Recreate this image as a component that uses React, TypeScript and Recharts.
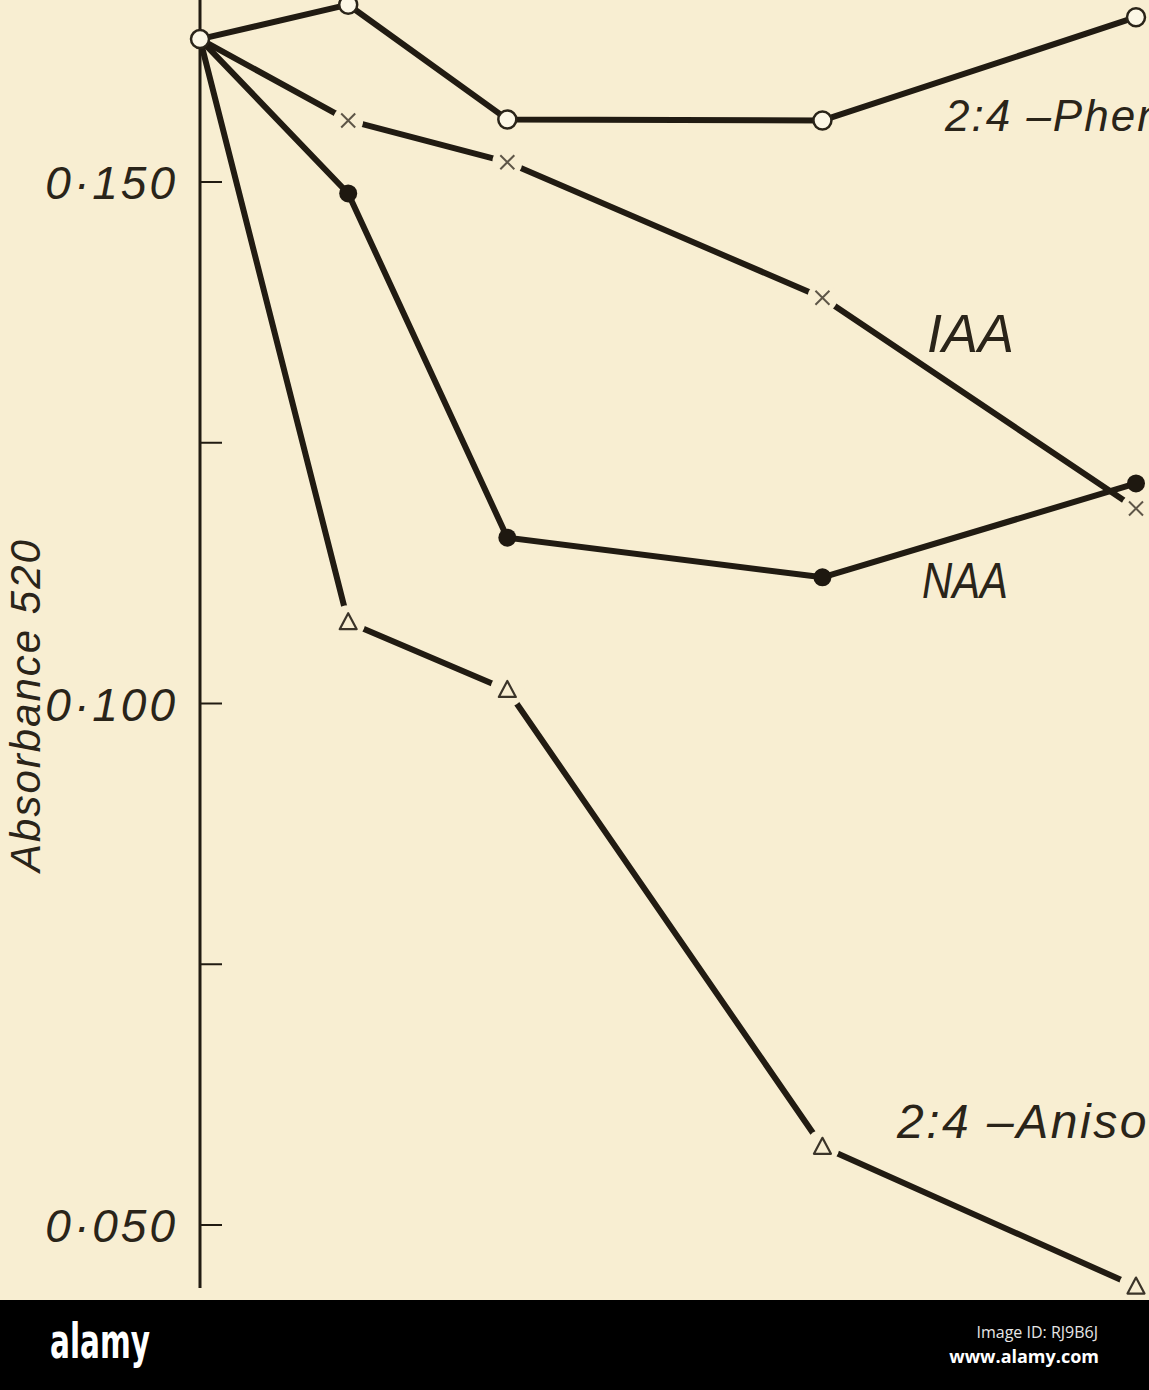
import { LineChart, Line, XAxis, YAxis } from "recharts";

const times = [0, 0.95, 1.97, 3.99, 6];

// absorbance at 520 nm for each treatment
const phen = [0.1637, 0.167, 0.156, 0.1559, 0.1658];
const iaa = [0.1637, 0.1559, 0.1519, 0.1389, 0.1187];
const naa = [0.1637, 0.1489, 0.1159, 0.1121, 0.1211];
const aniso = [0.1637, 0.1078, 0.1013, 0.0575, 0.0441];

const yTicks = [0.05, 0.075, 0.1, 0.125, 0.15];
const yTickLabels = ["0·050", "", "0·100", "", "0·150"];

const seriesNames = ["2:4 –Phen", "IAA", "NAA", "2:4 –Aniso"];

const BG = "#f8eed2";
const INK = "#211b12";
const FONT = "'Liberation Sans', Arial, sans-serif";

const data = times.map((t, i) => ({ t, phen: phen[i], iaa: iaa[i], naa: naa[i], aniso: aniso[i] }));

const OpenDot = (p: any) => (
  <circle key={`ph-${p.index}`} cx={p.cx} cy={p.cy} r={9} fill="#fcf7e6" stroke="#2a2419" strokeWidth={2.5} />
);

const CrossDot = (p: any) => {
  if (p.index === 0) return <g key={`x-${p.index}`} />;
  const { cx, cy } = p;
  return (
    <g key={`x-${p.index}`}>
      <circle cx={cx} cy={cy} r={15} fill={BG} />
      <path
        d={`M${cx - 7},${cy - 7}L${cx + 7},${cy + 7}M${cx + 7},${cy - 7}L${cx - 7},${cy + 7}`}
        stroke="#5e5648"
        strokeWidth={2}
      />
    </g>
  );
};

const FilledDot = (p: any) => {
  if (p.index === 0) return <g key={`n-${p.index}`} />;
  return <circle key={`n-${p.index}`} cx={p.cx} cy={p.cy} r={9} fill="#1e1810" />;
};

const TriangleDot = (p: any) => {
  if (p.index === 0) return <g key={`a-${p.index}`} />;
  const { cx, cy } = p;
  return (
    <g key={`a-${p.index}`}>
      <circle cx={cx} cy={cy} r={17} fill={BG} />
      <path
        d={`M${cx},${cy - 9}L${cx + 8.5},${cy + 7}L${cx - 8.5},${cy + 7}Z`}
        fill="none"
        stroke="#3b3429"
        strokeWidth={2.2}
        strokeLinejoin="round"
      />
    </g>
  );
};

const YTick = (props: any) => {
  const { x, y, payload } = props;
  const label = yTickLabels[yTicks.indexOf(payload.value)];
  return (
    <g>
      <line x1={x} x2={x + 22} y1={y} y2={y} stroke={INK} strokeWidth={2} />
      {label && (
        <text
          x={x - 22}
          y={y}
          dy={17}
          textAnchor="end"
          fontFamily={FONT}
          fontStyle="italic"
          fontSize={46}
          letterSpacing={3}
          fill="#2a2419"
        >
          {label}
        </text>
      )}
    </g>
  );
};

const lineStyle = { stroke: INK, strokeWidth: 6, strokeLinecap: "round" as const, strokeLinejoin: "round" as const };

export default function App() {
  return (
    <div style={{ position: "absolute", left: 0, top: 0, width: 1149, height: 1390, background: BG, overflow: "hidden" }}>
      <LineChart width={1149} height={1300} data={data} margin={{ top: 0, right: 13, bottom: 12, left: 0 }}>
        <XAxis dataKey="t" type="number" domain={[0, 6]} hide />
        <YAxis
          type="number"
          domain={[0.04396, 0.16745]}
          ticks={yTicks}
          width={200}
          tickSize={0}
          tickMargin={0}
          tickLine={false}
          axisLine={{ stroke: INK, strokeWidth: 3 }}
          tick={<YTick />}
        />
        {/* lines first, markers on top so the gaps around markers cut every line */}
        <Line type="linear" dataKey="phen" {...lineStyle} dot={false} activeDot={false} isAnimationActive={false} />
        <Line type="linear" dataKey="iaa" {...lineStyle} dot={false} activeDot={false} isAnimationActive={false} />
        <Line type="linear" dataKey="naa" {...lineStyle} dot={false} activeDot={false} isAnimationActive={false} />
        <Line type="linear" dataKey="aniso" {...lineStyle} dot={false} activeDot={false} isAnimationActive={false} />
        <Line type="linear" dataKey="aniso" stroke="none" dot={TriangleDot} activeDot={false} isAnimationActive={false} />
        <Line type="linear" dataKey="naa" stroke="none" dot={FilledDot} activeDot={false} isAnimationActive={false} />
        <Line type="linear" dataKey="iaa" stroke="none" dot={CrossDot} activeDot={false} isAnimationActive={false} />
        <Line type="linear" dataKey="phen" stroke="none" dot={OpenDot} activeDot={false} isAnimationActive={false} />
      </LineChart>
      <svg width={1149} height={1390} style={{ position: "absolute", left: 0, top: 0, pointerEvents: "none" }}>
        <g fontFamily={FONT} fontStyle="italic" fill="#2a2419">
          <text x={945} y={131} fontSize={44} letterSpacing={2}>{seriesNames[0]}</text>
          <text x={927} y={352} fontSize={54}>{seriesNames[1]}</text>
          <text x={922} y={598} fontSize={50} textLength={86} lengthAdjust="spacingAndGlyphs">{seriesNames[2]}</text>
          <text x={897} y={1138} fontSize={48} letterSpacing={2.5}>{seriesNames[3]}</text>
          <text
            transform="translate(40,705) rotate(-90)"
            textAnchor="middle"
            fontSize={42}
            letterSpacing={2}
          >
            Absorbance 520
          </text>
        </g>
        <rect x={0} y={1300} width={1149} height={90} fill="#000" />
        <text
          x={50}
          y={1358}
          fontFamily="'Liberation Sans Narrow', 'DejaVu Sans Condensed', sans-serif"
          fontWeight="bold"
          fontSize={48}
          textLength={100}
          lengthAdjust="spacingAndGlyphs"
          fill="#fff"
        >
          alamy
        </text>
        <text x={1098} y={1338} textAnchor="end" fontFamily="'Open Sans', sans-serif" fontSize={16} fill="#e6e6e6">
          Image ID: RJ9B6J
        </text>
        <text x={1099} y={1363} textAnchor="end" fontFamily="'Open Sans', sans-serif" fontWeight="bold" fontSize={18} fill="#fff">
          www.alamy.com
        </text>
      </svg>
    </div>
  );
}
